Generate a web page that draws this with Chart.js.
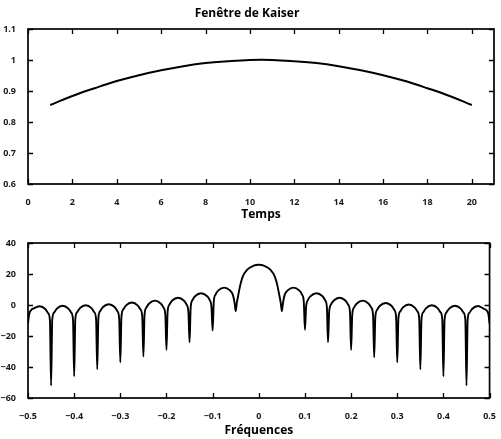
<!DOCTYPE html>
<html>
<head>
<meta charset="utf-8">
<title>Fenêtre de Kaiser</title>
<script src="https://cdn.jsdelivr.net/npm/chart.js@4.4.1/dist/chart.umd.min.js"></script>
<style>
  body { margin: 0; background: #fff; }
  .box { position: absolute; left: 0; }
  canvas { display: block; }
</style>
</head>
<body>
<div class="box" style="top:0"><canvas id="windowChart" width="501" height="225"></canvas></div>
<div class="box" style="top:225px"><canvas id="spectrumChart" width="501" height="214"></canvas></div>
<script>
// --- fenetre (temps) ---
const sampleIndex = [1, 2, 3, 4, 5, 6, 7, 8, 9, 10, 11, 12, 13, 14, 15, 16, 17, 18, 19, 20];
const kaiserWin = [0.855, 0.884, 0.909, 0.932, 0.951, 0.967, 0.980, 0.990, 0.996, 1.000,
                   1.000, 0.996, 0.990, 0.980, 0.967, 0.951, 0.932, 0.909, 0.884, 0.855];
const timeTicks = [0, 2, 4, 6, 8, 10, 12, 14, 16, 18, 20];
const winTicks = [0.6, 0.7, 0.8, 0.9, 1, 1.1];

// --- spectre (dB), lu lobe par lobe ---
const freqs = [
  -0.5, -0.4975, -0.49375, -0.4875, -0.475, -0.4625, -0.45625, -0.4525, -0.45,
  -0.4475, -0.44375, -0.4375, -0.425, -0.4125, -0.40625, -0.4025, -0.4,
  -0.3975, -0.39375, -0.3875, -0.375, -0.3625, -0.35625, -0.3525, -0.35,
  -0.3475, -0.34375, -0.3375, -0.325, -0.3125, -0.30625, -0.3025, -0.3,
  -0.2975, -0.29375, -0.2875, -0.275, -0.2625, -0.25625, -0.2525, -0.25,
  -0.2475, -0.24375, -0.2375, -0.225, -0.2125, -0.20625, -0.2025, -0.2,
  -0.1975, -0.19375, -0.1875, -0.175, -0.1625, -0.15625, -0.1525, -0.15,
  -0.1475, -0.14375, -0.1375, -0.125, -0.1125, -0.10625, -0.1025, -0.1,
  -0.0975, -0.09375, -0.0875, -0.075, -0.0625, -0.05625, -0.0525, -0.05,
  -0.0475, -0.045, -0.04, -0.035, -0.025, -0.0125, 0, 0.0125, 0.025, 0.035, 0.04, 0.045, 0.0475, 0.05,
  0.0525, 0.05625, 0.0625, 0.075, 0.0875, 0.09375, 0.0975, 0.1,
  0.1025, 0.10625, 0.1125, 0.125, 0.1375, 0.14375, 0.1475, 0.15,
  0.1525, 0.15625, 0.1625, 0.175, 0.1875, 0.19375, 0.1975, 0.2,
  0.2025, 0.20625, 0.2125, 0.225, 0.2375, 0.24375, 0.2475, 0.25,
  0.2525, 0.25625, 0.2625, 0.275, 0.2875, 0.29375, 0.2975, 0.3,
  0.3025, 0.30625, 0.3125, 0.325, 0.3375, 0.34375, 0.3475, 0.35,
  0.3525, 0.35625, 0.3625, 0.375, 0.3875, 0.39375, 0.3975, 0.4,
  0.4025, 0.40625, 0.4125, 0.425, 0.4375, 0.44375, 0.4475, 0.45,
  0.4525, 0.45625, 0.4625, 0.475, 0.4875, 0.49375, 0.4975, 0.5
];
const gainDb = [
  -12, -6, -3.5, -2.2, -0.8, -2.6, -5.3, -9.8, -52,
  -9.5, -5.0, -2.3, -0.5, -2.3, -5.0, -9.5, -46,
  -9.2, -4.7, -2.0, -0.2, -2.0, -4.7, -9.2, -41.5,
  -8.5, -4.0, -1.3, 0.5, -1.3, -4.0, -8.5, -37,
  -7.4, -2.9, -0.2, 1.6, -0.2, -2.9, -7.4, -33.3,
  -6.2, -1.7, 1.0, 2.8, 1.0, -1.7, -6.2, -29,
  -4.3, 0.2, 2.9, 4.7, 2.9, 0.2, -4.3, -24,
  -1.4, 3.1, 5.8, 7.6, 5.8, 3.1, -1.4, -16.5,
  2.2, 6.7, 9.4, 11.2, 9.4, 6.7, 1.5, -4,
  1.5, 5.5, 13, 18.2, 22.8, 25.2, 26, 25.2, 22.8, 18.2, 13, 5.5, 1.5, -4,
  1.5, 6.7, 9.4, 11.2, 9.4, 6.7, 2.2, -16,
  -1.4, 3.1, 5.8, 7.6, 5.8, 3.1, -1.4, -24,
  -4.3, 0.2, 2.9, 4.7, 2.9, 0.2, -4.3, -29,
  -6.2, -1.7, 1.0, 2.8, 1.0, -1.7, -6.2, -33.8,
  -7.7, -3.2, -0.5, 1.3, -0.5, -3.2, -7.7, -37,
  -8.7, -4.2, -1.5, 0.3, -1.5, -4.2, -8.7, -41.5,
  -9.2, -4.7, -2.0, -0.2, -2.0, -4.7, -9.2, -46,
  -9.5, -5.0, -2.3, -0.5, -2.3, -5.0, -9.5, -52,
  -9.6, -5.1, -2.4, -0.6, -2.4, -3.5, -6, -12
];
const freqTicks = [-0.5, -0.4, -0.3, -0.2, -0.1, 0, 0.1, 0.2, 0.3, 0.4, 0.5];
const dbTicks = [-60, -40, -20, 0, 20, 40];

Chart.defaults.font.family = "'Open Sans', 'DejaVu Sans', sans-serif";
Chart.defaults.color = '#1a1a1a';
Chart.defaults.animation = false;

// cadre + graduations vers l'interieur, sur les 4 cotes
const innerTicks = {
  id: 'innerTicks',
  afterDraw(chart) {
    const { ctx, chartArea: a, scales } = chart;
    ctx.save();
    ctx.strokeStyle = '#000';
    ctx.lineWidth = 1.3;
    ctx.beginPath();
    scales.x.ticks.forEach(t => {
      const px = Math.round(scales.x.getPixelForValue(t.value)) + 0.5;
      ctx.moveTo(px, a.bottom); ctx.lineTo(px, a.bottom - 5);
      ctx.moveTo(px, a.top); ctx.lineTo(px, a.top + 5);
    });
    scales.y.ticks.forEach(t => {
      const py = Math.round(scales.y.getPixelForValue(t.value)) + 0.5;
      ctx.moveTo(a.left, py); ctx.lineTo(a.left + 5, py);
      ctx.moveTo(a.right, py); ctx.lineTo(a.right - 5, py);
    });
    ctx.stroke();
    ctx.lineWidth = 1.7;
    ctx.strokeRect(a.left, a.top, a.right - a.left, a.bottom - a.top);
    ctx.restore();
  }
};

const tickFont = { size: 9, weight: 'bold' };
const titleFont = { size: 12, weight: 'bold' };
const fmt = v => String(v).replace('-', '\u2212');

function axisX(min, max, tickList, label, titlePad) {
  return {
    type: 'linear',
    min: min,
    max: max,
    afterBuildTicks: s => { s.ticks = tickList.map(v => ({ value: v })); },
    afterFit: s => { s.height = 41; },
    grid: { display: false },
    border: { display: false },
    ticks: { font: tickFont, padding: 5, maxRotation: 0, autoSkip: false, callback: fmt },
    title: { display: true, text: label, font: titleFont, color: '#000', padding: { top: 0, bottom: titlePad } }
  };
}

function axisY(min, max, tickList) {
  return {
    min: min,
    max: max,
    afterBuildTicks: s => { s.ticks = tickList.map(v => ({ value: v })); },
    afterFit: s => { s.width = 28; },
    grid: { display: false },
    border: { display: false },
    ticks: { font: tickFont, padding: 4, autoSkip: false, callback: fmt }
  };
}

new Chart(document.getElementById('windowChart'), {
  type: 'line',
  data: {
    datasets: [{
      data: sampleIndex.map((n, i) => ({ x: n, y: kaiserWin[i] })),
      borderColor: '#000',
      borderWidth: 2,
      pointRadius: 0,
      tension: 0.4,
      fill: false
    }]
  },
  options: {
    responsive: false,
    layout: { padding: { left: 0, right: 7, top: 0, bottom: 0 } },
    plugins: {
      legend: { display: false },
      tooltip: { enabled: false },
      title: {
        display: true,
        text: 'Fenêtre de Kaiser',
        font: titleFont,
        color: '#000',
        padding: { top: 6, bottom: 8.6 }
      }
    },
    scales: {
      x: axisX(0, 21, timeTicks, 'Temps', 3.5),
      y: axisY(0.6, 1.1, winTicks)
    }
  },
  plugins: [innerTicks]
});

new Chart(document.getElementById('spectrumChart'), {
  type: 'line',
  data: {
    datasets: [{
      data: freqs.map((f, i) => ({ x: f, y: gainDb[i] })),
      borderColor: '#000',
      borderWidth: 1.9,
      pointRadius: 0,
      cubicInterpolationMode: 'monotone',
      fill: false
    }]
  },
  options: {
    responsive: false,
    layout: { padding: { left: 0, right: 7, top: 18, bottom: 0 } },
    plugins: {
      legend: { display: false },
      tooltip: { enabled: false }
    },
    scales: {
      x: axisX(-0.5, 0.5, freqTicks, 'Fréquences', 1.5),
      y: axisY(-60, 40, dbTicks)
    }
  },
  plugins: [innerTicks]
});
</script>
</body>
</html>
